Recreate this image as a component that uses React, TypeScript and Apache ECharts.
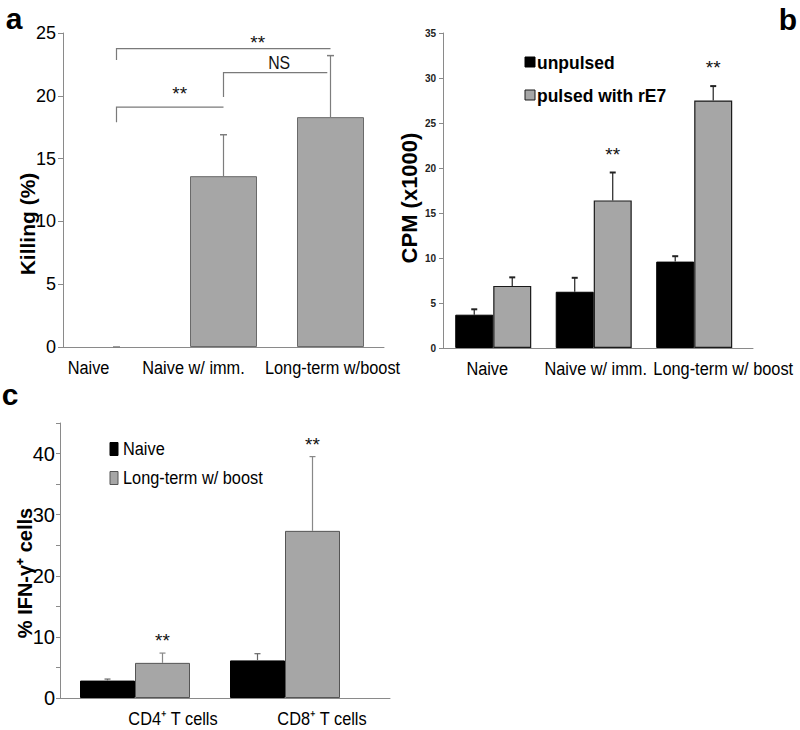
import React, { useEffect, useRef } from 'react';
import * as echarts from 'echarts';

// ---------- DATA ----------
// Panel a: killing (%)
const killingCategories = ['Naive', 'Naive w/ imm.', 'Long-term w/boost'];
const killingValues = [0, 13.6, 18.3];
const killingErrTop = [0, 16.9, 23.2];
const killingTicks = [0, 5, 10, 15, 20, 25];
// significance brackets, as [x position (category 1..3), value] points
const bracketPaths = [
  [[1, 17.9], [1, 19.1], [2, 19.1]],
  [[2, 19.9], [2, 21.85], [2.97, 21.85]],
  [[1, 22.85], [1, 23.75], [3, 23.75]],
];
const bracketTexts = ['**', 'NS', '**'];
const bracketTextPos = [[1.59, 20.2], [2.52, 22.6], [2.32, 24.25]];

// Panel b: CPM (x1000)
const cpmCategories = ['Naive', 'Naive w/ imm.', 'Long-term w/ boost'];
const unpulsed = [3.7, 6.25, 9.6];
const unpulsedErrTop = [4.3, 7.8, 10.2];
const pulsed = [6.9, 16.4, 27.5];
const pulsedErrTop = [7.85, 19.5, 29.1];
const pulsedStars = ['', '**', '**'];
const cpmTicks = [0, 5, 10, 15, 20, 25, 30, 35];

// Panel c: % IFN-γ+ cells
const cellCategories = ['CD4⁺ T cells', 'CD8⁺ T cells'];
const naiveIfn = [2.85, 6.15];
const naiveIfnErrTop = [3.1, 7.25];
const boostIfn = [5.75, 27.35];
const boostIfnErrTop = [7.35, 39.5];
const boostStars = ['**', '**'];
const ifnTicks = [0, 10, 20, 30, 40];

// ---------- STYLE ----------
const SANS = '"Liberation Sans", Arial, Helvetica, sans-serif';
const GRAY = '#a6a6a6';
const AXIS_GRAY = '#8a8a8a';
const NARROW_SCALE = 0.86;

// category labels drawn as text through the axis scales, horizontally condensed
function categoryLabelSeries(axisIndex: number, cats: string[], shifts: number[], fontSize: number) {
  return {
    type: 'custom',
    xAxisIndex: axisIndex,
    yAxisIndex: axisIndex,
    silent: true,
    z: 10,
    data: cats.map((_, i) => [i + 1, 0]),
    renderItem: (params: any, api: any) => {
      const i = params.dataIndex;
      const p = api.coord([api.value(0), 0]);
      return {
        type: 'text',
        x: p[0] + (shifts[i] || 0),
        y: p[1] + 11,
        scaleX: NARROW_SCALE,
        style: { text: cats[i], fontFamily: SANS, fontSize, fill: '#000', align: 'center', verticalAlign: 'top' },
      };
    },
  };
}

function errorSeries(
  axisIndex: number,
  xs: number[],
  vals: number[],
  tops: number[],
  offsetPx: number,
  color: string,
  capHalf: number,
  capWidth: number,
  stars?: string[],
  starGap = 13.5,
) {
  return {
    type: 'custom',
    xAxisIndex: axisIndex,
    yAxisIndex: axisIndex,
    z: 5,
    silent: true,
    data: xs.map((x, i) => [x, vals[i], tops[i]]),
    renderItem: (params: any, api: any) => {
      const i = params.dataIndex;
      const x = api.value(0);
      const p0 = api.coord([x, api.value(1)]);
      const p1 = api.coord([x, api.value(2)]);
      const cx = p0[0] + offsetPx;
      const children: any[] = [
        { type: 'line', shape: { x1: cx, y1: p0[1], x2: cx, y2: p1[1] }, style: { stroke: color, lineWidth: 1.2 } },
        { type: 'line', shape: { x1: cx - capHalf, y1: p1[1], x2: cx + capHalf, y2: p1[1] }, style: { stroke: color, lineWidth: capWidth } },
      ];
      if (stars && stars[i]) {
        children.push({
          type: 'text',
          x: cx,
          y: p1[1] - starGap,
          style: { text: stars[i], fontFamily: SANS, fontSize: 19, fill: '#111', align: 'center', verticalAlign: 'middle' },
        });
      }
      return { type: 'group', children };
    },
  };
}

function valueXAxis(gridIndex: number, max: number) {
  return {
    gridIndex,
    type: 'value',
    min: 0.5,
    max,
    interval: 0.5,
    splitLine: { show: false },
    axisTick: { show: false },
    axisLabel: { show: false },
    axisLine: { show: true, lineStyle: { color: AXIS_GRAY, width: 1 } },
  };
}

function legendItems(x: number, y0: number, gap: number, w: number, h: number, names: string[], fills: string[], strokes: string[], fontSize: number, bold: boolean, textX: number, scale: number) {
  const out: any[] = [];
  names.forEach((name, i) => {
    const cy = y0 + i * gap;
    out.push({ type: 'rect', shape: { x, y: cy - h / 2, width: w, height: h }, style: { fill: fills[i], stroke: strokes[i], lineWidth: 1 } });
    out.push({
      type: 'text',
      x: textX,
      y: cy,
      scaleX: scale,
      style: { text: name, fontFamily: SANS, fontSize, fontWeight: bold ? 'bold' : 'normal', fill: '#000', align: 'left', verticalAlign: 'middle' },
    });
  });
  return out;
}

function buildOption() {
  const xs3 = cpmCategories.map((_, i) => i + 1);
  const xs2 = cellCategories.map((_, i) => i + 1);
  const xsA = killingCategories.map((_, i) => i + 1);

  return {
    animation: false,
    backgroundColor: '#ffffff',
    grid: [
      { left: 63, top: 33, width: 321, height: 314 },
      { left: 443, top: 33, width: 310, height: 315 },
      { left: 60, top: 423, width: 330, height: 275 },
    ],
    xAxis: [valueXAxis(0, 3.5), valueXAxis(1, 3.585), valueXAxis(2, 2.7)],
    yAxis: [
      {
        gridIndex: 0,
        type: 'value',
        min: killingTicks[0],
        max: killingTicks[killingTicks.length - 1],
        interval: 5,
        splitLine: { show: false },
        axisLine: { show: true, lineStyle: { color: AXIS_GRAY, width: 1 } },
        axisTick: { show: true, length: 5, lineStyle: { color: AXIS_GRAY } },
        axisLabel: { fontFamily: SANS, fontSize: 18, color: '#000', margin: 7 },
      },
      {
        gridIndex: 1,
        type: 'value',
        min: cpmTicks[0],
        max: cpmTicks[cpmTicks.length - 1],
        interval: 5,
        splitLine: { show: false },
        axisLine: { show: true, lineStyle: { color: AXIS_GRAY, width: 1 } },
        axisTick: { show: true, length: 4, lineStyle: { color: AXIS_GRAY } },
        axisLabel: { fontFamily: SANS, fontSize: 10, fontWeight: 'bold', color: '#222', margin: 7 },
      },
      {
        gridIndex: 2,
        type: 'value',
        min: 0,
        max: 45,
        interval: 5,
        splitLine: { show: false },
        axisLine: { show: true, lineStyle: { color: AXIS_GRAY, width: 1 } },
        axisTick: { show: true, length: 4, lineStyle: { color: AXIS_GRAY } },
        axisLabel: {
          fontFamily: SANS,
          fontSize: 20,
          color: '#000',
          margin: 5,
          formatter: (v: number) => (ifnTicks.indexOf(v) >= 0 ? String(v) : ''),
        },
      },
    ],
    series: [
      // Panel a
      {
        name: 'Killing',
        type: 'bar',
        xAxisIndex: 0,
        yAxisIndex: 0,
        data: xsA.map((x, i) =>
          killingValues[i] === 0
            ? { value: [x, killingValues[i]], itemStyle: { borderWidth: 0 } }
            : [x, killingValues[i]],
        ),
        barWidth: 67,
        itemStyle: { color: GRAY, borderColor: '#6a6a6a', borderWidth: 1 },
      },
      {
        type: 'custom',
        xAxisIndex: 0,
        yAxisIndex: 0,
        z: 6,
        silent: true,
        data: bracketPaths.map((p) => p[0]),
        renderItem: (params: any, api: any) => {
          const i = params.dataIndex;
          const pts = bracketPaths[i].map((p) => api.coord(p));
          const tp = api.coord(bracketTextPos[i]);
          const isStar = bracketTexts[i] === '**';
          return {
            type: 'group',
            children: [
              { type: 'polyline', shape: { points: pts }, style: { stroke: '#7a7a7a', lineWidth: 1.2, fill: 'none' } },
              {
                type: 'text',
                x: tp[0],
                y: tp[1],
                scaleX: isStar ? 1 : 0.88,
                style: {
                  text: bracketTexts[i],
                  fontFamily: SANS,
                  fontSize: isStar ? 19 : 18,
                  fill: '#111',
                  align: 'center',
                  verticalAlign: 'middle',
                },
              },
            ],
          };
        },
      },
      errorSeries(0, xsA, killingValues, killingErrTop, 0, '#7d7d7d', 3.5, 1.5),
      categoryLabelSeries(0, killingCategories, [-28, -30, 2], 19),

      // Panel b
      {
        name: 'unpulsed',
        type: 'bar',
        xAxisIndex: 1,
        yAxisIndex: 1,
        data: xs3.map((x, i) => [x, unpulsed[i]]),
        barWidth: 38,
        barGap: '0%',
        itemStyle: { color: '#000000', borderColor: '#000000', borderWidth: 1 },
      },
      {
        name: 'pulsed with rE7',
        type: 'bar',
        xAxisIndex: 1,
        yAxisIndex: 1,
        data: xs3.map((x, i) => [x, pulsed[i]]),
        barWidth: 38,
        barGap: '0%',
        itemStyle: { color: GRAY, borderColor: '#1a1a1a', borderWidth: 1.2 },
      },
      errorSeries(1, xs3, unpulsed, unpulsedErrTop, -19, '#222', 3, 2),
      errorSeries(1, xs3, pulsed, pulsedErrTop, 19, '#222', 3, 2, pulsedStars, 18.5),
      categoryLabelSeries(1, cpmCategories, [-6, 2, 29], 19),

      // Panel c
      {
        name: 'Naive',
        type: 'bar',
        xAxisIndex: 2,
        yAxisIndex: 2,
        data: xs2.map((x, i) => [x, naiveIfn[i]]),
        barWidth: 55,
        barGap: '0%',
        itemStyle: { color: '#000000', borderColor: '#000000', borderWidth: 1 },
      },
      {
        name: 'Long-term w/ boost',
        type: 'bar',
        xAxisIndex: 2,
        yAxisIndex: 2,
        data: xs2.map((x, i) => [x, boostIfn[i]]),
        barWidth: 55,
        barGap: '0%',
        itemStyle: { color: GRAY, borderColor: '#555', borderWidth: 1 },
      },
      errorSeries(2, xs2, naiveIfn, naiveIfnErrTop, -27.5, '#666', 3, 1.2),
      errorSeries(2, xs2, boostIfn, boostIfnErrTop, 27.5, '#888', 3, 1.2, boostStars, 12.5),
      categoryLabelSeries(2, cellCategories, [38, 37], 19),
    ],
    graphic: [
      { type: 'text', x: 14, y: 18, style: { text: 'a', fontFamily: SANS, fontWeight: 'bold', fontSize: 30, fill: '#000', align: 'center', verticalAlign: 'middle' } },
      { type: 'text', x: 788, y: 19, style: { text: 'b', fontFamily: SANS, fontWeight: 'bold', fontSize: 30, fill: '#000', align: 'center', verticalAlign: 'middle' } },
      { type: 'text', x: 10, y: 394, style: { text: 'c', fontFamily: SANS, fontWeight: 'bold', fontSize: 30, fill: '#000', align: 'center', verticalAlign: 'middle' } },
      { type: 'text', x: 27, y: 224, rotation: Math.PI / 2, style: { text: 'Killing (%)', fontFamily: SANS, fontWeight: 'bold', fontSize: 21, fill: '#000', align: 'center', verticalAlign: 'middle' } },
      { type: 'text', x: 409, y: 198, rotation: Math.PI / 2, style: { text: 'CPM (x1000)', fontFamily: SANS, fontWeight: 'bold', fontSize: 22, fill: '#000', align: 'center', verticalAlign: 'middle' } },
      { type: 'text', x: 25, y: 573, rotation: Math.PI / 2, style: { text: '% IFN-γ⁺ cells', fontFamily: SANS, fontWeight: 'bold', fontSize: 20, fill: '#000', align: 'center', verticalAlign: 'middle' } },
      ...legendItems(525, 62, 33, 10, 10, ['unpulsed', 'pulsed with rE7'], ['#000000', GRAY], ['#000000', '#1a1a1a'], 19, true, 537, 0.92),
      ...legendItems(110, 449, 29, 8, 13, ['Naive', 'Long-term w/ boost'], ['#000000', GRAY], ['#000000', '#555'], 19, false, 123, 0.86),
    ],
  };
}

export default function App() {
  const ref = useRef<HTMLDivElement>(null);
  useEffect(() => {
    if (!ref.current) return;
    const chart = echarts.init(ref.current, null, { renderer: 'svg' });
    chart.setOption(buildOption() as any);
    return () => chart.dispose();
  }, []);
  return (
    <div
      ref={ref}
      style={{ position: 'absolute', left: 0, top: 0, width: 800, height: 730, background: '#fff' }}
    />
  );
}
